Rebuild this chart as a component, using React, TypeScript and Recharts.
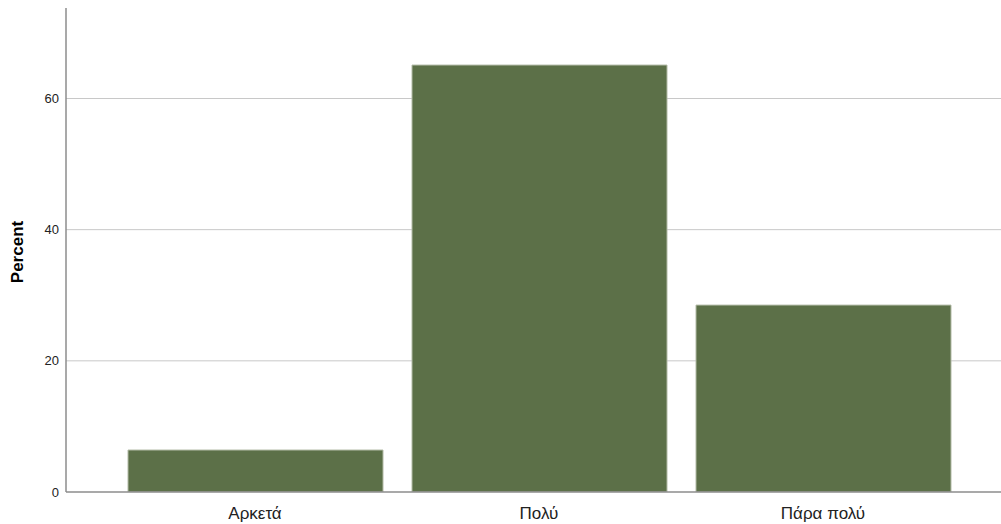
import React from 'react';
import { BarChart, Bar, XAxis, YAxis, CartesianGrid } from 'recharts';

const categories = ['Αρκετά', 'Πολύ', 'Πάρα πολύ'];
const percentValues = [6.4, 65.1, 28.5];
const yTicks = [0, 20, 40, 60];
const gridValues = [20, 40, 60];

const data = categories.map((c, i) => ({ name: c, value: percentValues[i] }));

const FONT = '"Liberation Sans", Arial, sans-serif';

export default function App() {
  return (
    <div style={{ position: 'absolute', left: 0, top: 0, width: 1001, height: 524, background: '#fff' }}>
      <BarChart
        width={1001}
        height={524}
        data={data}
        margin={{ top: 8, right: 0, left: 0, bottom: 0 }}
        barSize={255}
      >
        <CartesianGrid vertical={false} horizontalValues={gridValues} stroke="#c8c8c8" strokeWidth={1} />
        <XAxis
          dataKey="name"
          height={32}
          tickLine={false}
          tickSize={0}
          tickMargin={15}
          axisLine={{ stroke: '#8c8c8c', strokeWidth: 1.5 }}
          padding={{ left: 47, right: 36 }}
          tick={{ fontFamily: FONT, fontSize: 17, fill: '#222' }}
          interval={0}
        />
        <YAxis
          width={66}
          domain={[0, 73.8]}
          ticks={yTicks}
          tickLine={false}
          tickSize={0}
          tickMargin={7}
          axisLine={{ stroke: '#8c8c8c', strokeWidth: 1.5 }}
          tick={{ fontFamily: FONT, fontSize: 13, fill: '#222' }}
          allowDataOverflow
        />
        <Bar
          dataKey="value"
          fill="#5c7048"
          stroke="#b2baa6"
          strokeWidth={1}
          isAnimationActive={false}
        />
      </BarChart>
      <div
        style={{
          position: 'absolute',
          left: 17,
          top: 252,
          transform: 'translate(-50%, -50%) rotate(-90deg)',
          fontFamily: FONT,
          fontWeight: 'bold',
          fontSize: 17,
          color: '#000',
          whiteSpace: 'nowrap',
          lineHeight: 1,
        }}
      >
        Percent
      </div>
    </div>
  );
}
